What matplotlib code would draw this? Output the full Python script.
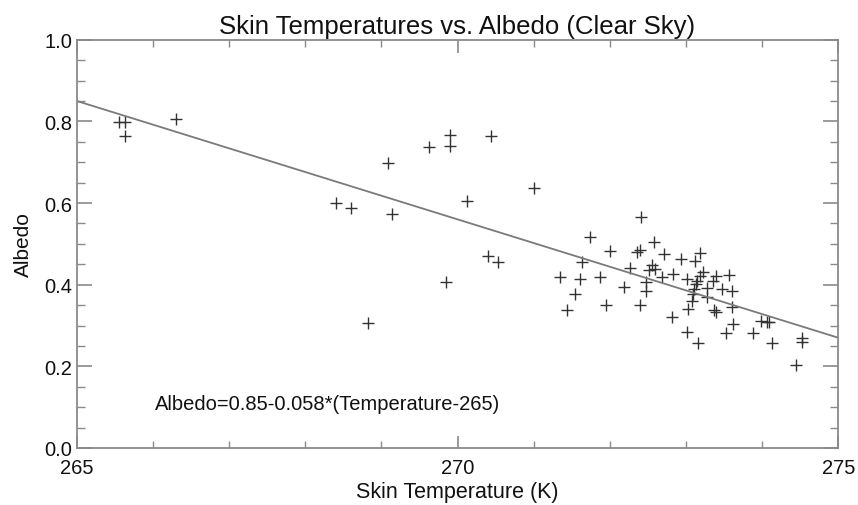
import matplotlib
matplotlib.use("Agg")
import matplotlib.pyplot as plt
import numpy as np
from matplotlib.ticker import MultipleLocator, FormatStrFormatter

plt.rcParams['font.family'] = ['Liberation Sans', 'DejaVu Sans']

temperature = [
    265.56, 265.63, 265.64, 266.31, 268.40, 268.60, 268.83, 269.09, 269.14, 269.62,
    269.90, 269.90, 269.85, 270.13, 270.44, 270.40, 270.53, 271.01,
    271.34, 271.44, 271.54, 271.61, 271.64, 271.74, 271.87, 271.95, 272.00, 272.19,
    272.26, 272.36, 272.40, 272.40, 272.41, 272.47, 272.47, 272.51, 272.55, 272.59,
    272.58, 272.68, 272.71, 272.82, 272.83, 272.93, 273.01, 273.02, 273.01, 273.12,
    273.19, 273.23, 273.18, 273.14, 273.10, 273.08, 273.27, 273.16, 273.40, 273.36,
    273.57, 273.47, 273.61, 273.37, 273.40, 273.60, 273.62, 273.53, 273.88, 273.99,
    274.06, 274.09, 274.13, 274.52, 274.52, 274.44, 273.13, 273.09, 273.28,
]
albedo = [
    0.798, 0.798, 0.765, 0.807, 0.599, 0.587, 0.305, 0.698, 0.573, 0.736,
    0.767, 0.740, 0.406, 0.604, 0.763, 0.471, 0.455, 0.638,
    0.418, 0.338, 0.377, 0.414, 0.456, 0.516, 0.420, 0.350, 0.482, 0.394,
    0.440, 0.479, 0.485, 0.350, 0.565, 0.406, 0.385, 0.437, 0.448, 0.438,
    0.504, 0.420, 0.474, 0.322, 0.426, 0.463, 0.414, 0.340, 0.283, 0.459,
    0.478, 0.432, 0.422, 0.410, 0.389, 0.361, 0.369, 0.257, 0.422, 0.408,
    0.424, 0.389, 0.385, 0.338, 0.334, 0.345, 0.304, 0.282, 0.282, 0.312,
    0.309, 0.308, 0.257, 0.270, 0.260, 0.203, 0.402, 0.378, 0.392,
]

fit_intercept = 0.85
fit_slope = -0.058
fit_ref_temp = 265

x_ticks = [265, 270, 275]
y_ticks = [0.0, 0.2, 0.4, 0.6, 0.8, 1.0]

title = "Skin Temperatures vs. Albedo (Clear Sky)"
xlabel = "Skin Temperature (K)"
ylabel = "Albedo"
annotation = "Albedo=0.85-0.058*(Temperature-265)"

W, H = 858, 506
fig = plt.figure(figsize=(W / 100, H / 100), dpi=100)
left, right, top, bottom = 76.7, 838.3, 40.7, 449.0
ax = fig.add_axes([left / W, 1 - bottom / H, (right - left) / W, (bottom - top) / H])

axis_col = "#8a8a8a"
ax.plot(temperature, albedo, linestyle="none", marker="+", markersize=9,
        markeredgewidth=1.0, color="#333333")

fx = np.array([265.0, 275.0])
ax.plot(fx, fit_intercept + fit_slope * (fx - fit_ref_temp), color="#7a7a7a", lw=1.3)

ax.set_xlim(265, 275)
ax.set_ylim(0, 1.0)
ax.set_xticks(x_ticks)
ax.set_yticks(y_ticks)
ax.yaxis.set_major_formatter(FormatStrFormatter("%.1f"))
ax.xaxis.set_minor_locator(MultipleLocator(1))
ax.yaxis.set_minor_locator(MultipleLocator(0.05))

for s in ax.spines.values():
    s.set_color(axis_col)
    s.set_linewidth(1.3)

ax.tick_params(axis="both", which="both", direction="in", top=True, right=True,
               color=axis_col, labelsize=14.5, labelcolor="#111111")
ax.tick_params(axis="y", which="major", length=11, width=1.2, pad=3)
ax.tick_params(axis="y", which="minor", length=6, width=1.0)
ax.tick_params(axis="x", which="major", length=9, width=1.2, pad=7)
ax.tick_params(axis="x", which="minor", length=5, width=1.0)

ax.set_title(title, fontsize=18.5, color="#111111", pad=5)
ax.set_xlabel(xlabel, fontsize=15.5, color="#111111", labelpad=3)
ax.set_ylabel(ylabel, fontsize=15, color="#111111", labelpad=8)

ax.text(266.03, 0.108, annotation, fontsize=14.5, color="#111111",
        ha="left", va="center")

fig.savefig("out.png", dpi=100, facecolor="white")
